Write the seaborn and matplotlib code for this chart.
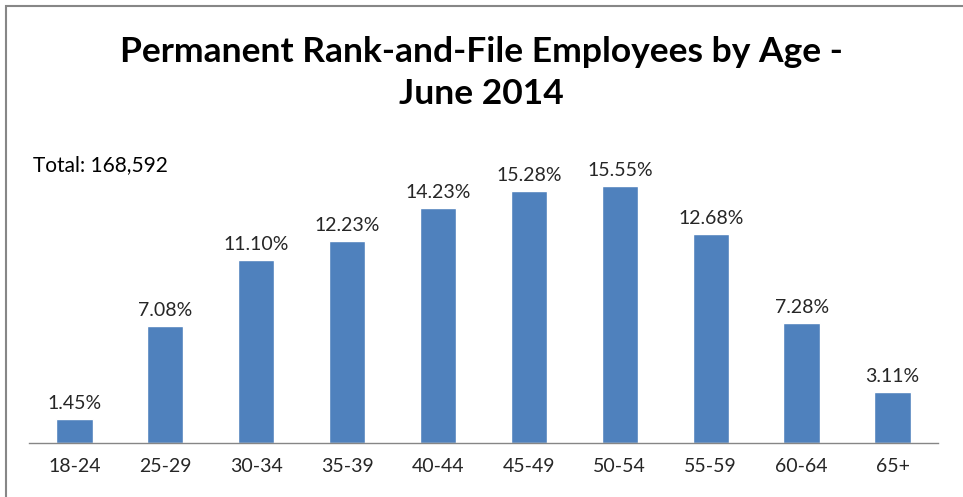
import matplotlib
matplotlib.use("Agg")
import matplotlib.pyplot as plt
import seaborn as sns
import pandas as pd
from matplotlib.patches import Rectangle

# --- data ---
age_groups = ["18-24", "25-29", "30-34", "35-39", "40-44",
              "45-49", "50-54", "55-59", "60-64", "65+"]
shares = [1.45, 7.08, 11.10, 12.23, 14.23, 15.28, 15.55, 12.68, 7.28, 3.11]
total_label = "Total: 168,592"
title = "Permanent Rank-and-File Employees by Age -\nJune 2014"

df = pd.DataFrame({"Age": age_groups, "Share": shares})

sns.set_theme(style="white")
plt.rcParams["font.family"] = ["Lato", "DejaVu Sans"]

fig = plt.figure(figsize=(9.63, 4.97), dpi=100)
ax = fig.add_axes([0.030, 0.1087, 0.944, 0.5975])

sns.barplot(data=df, x="Age", y="Share", color="#4F81BD", width=0.4,
            saturation=1, ax=ax)

ax.bar_label(ax.containers[0], labels=[f"{v:.2f}%" for v in shares],
             padding=5, fontsize=14, color="#262626")

ax.set_xlim(-0.5, len(age_groups) - 0.5)
ax.set_ylim(0, 18)
ax.set_xlabel("")
ax.set_ylabel("")
ax.set_yticks([])
ax.tick_params(axis="x", length=0, pad=11, labelsize=14, labelcolor="#262626")
for side in ["top", "left", "right"]:
    ax.spines[side].set_visible(False)
ax.spines["bottom"].set_color("#868686")
ax.spines["bottom"].set_linewidth(1)

fig.text(0.5, 0.853, title, ha="center", va="center", fontsize=25.5,
         fontweight="bold", color="black", linespacing=1.4)
fig.text(0.034, 0.668, total_label, ha="left", va="center", fontsize=15,
         color="black")

# chart frame
fig.patches.append(Rectangle((6 / 963, -0.1), 1.2, 1.1 - 6 / 497,
                             transform=fig.transFigure, fill=False,
                             edgecolor="#878787", linewidth=1.5))

fig.savefig("out.png", dpi=100)
